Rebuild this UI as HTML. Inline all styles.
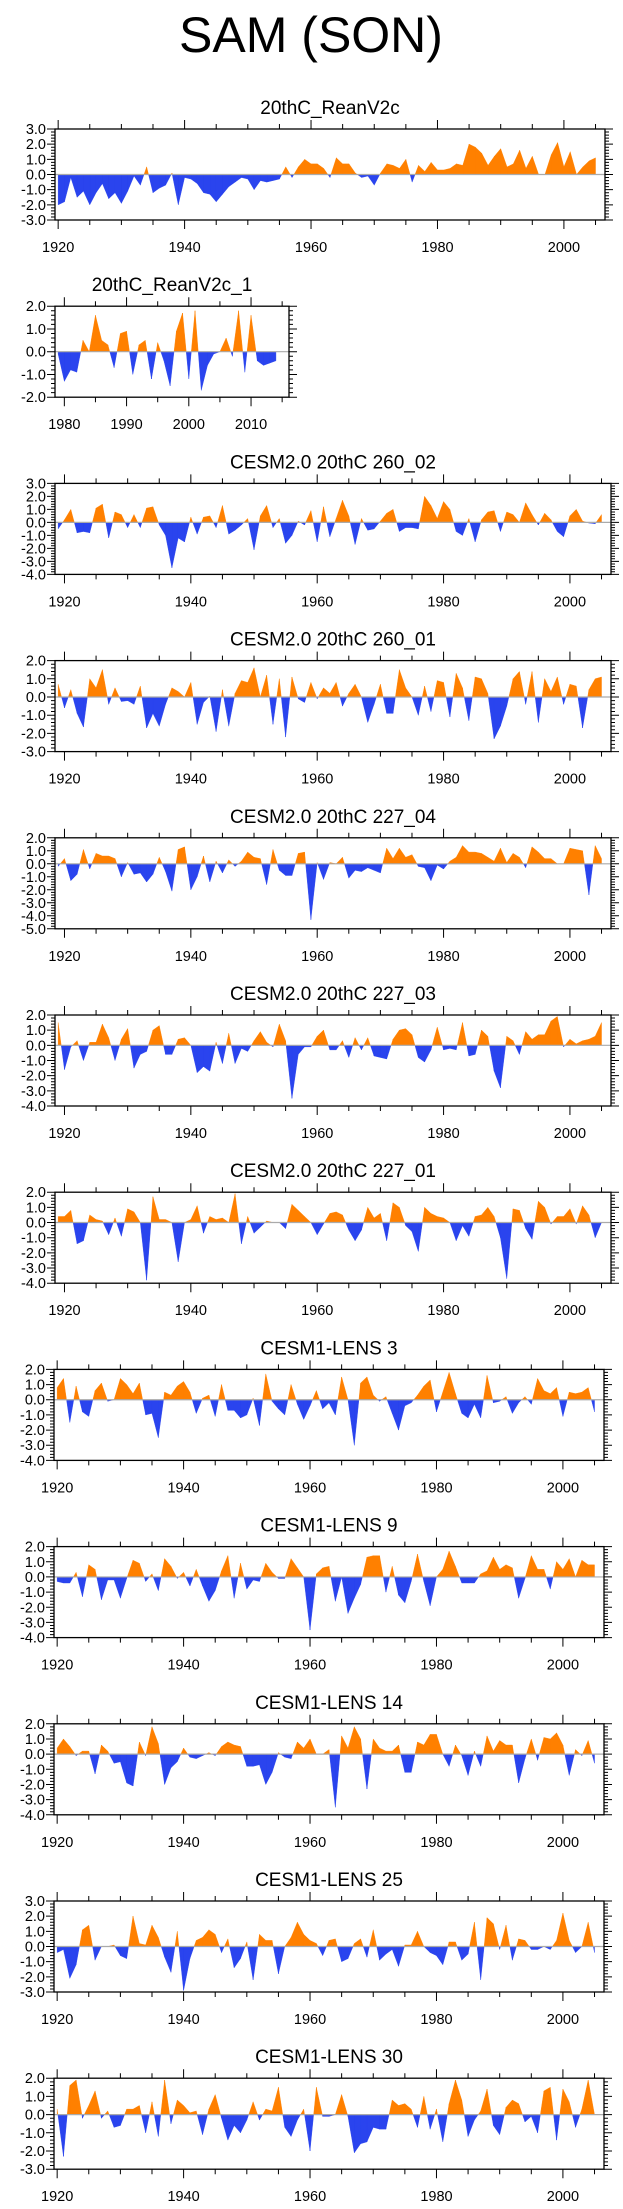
<!DOCTYPE html>
<html><head><meta charset="utf-8"><style>
html,body{margin:0;padding:0;background:#fff;}
svg{display:block;font-family:"Liberation Sans",Arial,sans-serif;}
</style></head><body>
<svg id="fig" width="623" height="2209" viewBox="0 0 623 2209" xmlns="http://www.w3.org/2000/svg">
<text x="311" y="52" font-size="50" text-anchor="middle">SAM (SON)</text>
</svg>
<script>
const titles = ["20thC_ReanV2c","20thC_ReanV2c_1","CESM2.0 20thC 260_02","CESM2.0 20thC 260_01","CESM2.0 20thC 227_04","CESM2.0 20thC 227_03","CESM2.0 20thC 227_01","CESM1-LENS 3","CESM1-LENS 9","CESM1-LENS 14","CESM1-LENS 25","CESM1-LENS 30"];
const startYears = [1920,1979,1919,1919,1919,1919,1919,1920,1920,1920,1920,1920];
const yMax = [3,2,3,2,2,2,2,2,2,2,3,2];
const yMin = [-3,-2,-4,-3,-5,-4,-4,-4,-4,-4,-3,-3];
const xTickMajor = [[1920,1940,1960,1980,2000],[1980,1990,2000,2010]];
const s0 = [-2.0,-1.8,-0.2,-1.5,-1.1,-2.0,-1.2,-0.6,-1.6,-1.2,-1.9,-1.1,-0.1,-0.7,0.5,-1.2,-0.9,-0.7,0.1,-2.0,-0.2,-0.3,-0.6,-1.2,-1.3,-1.8,-1.3,-0.8,-0.5,-0.2,-0.3,-1.0,-0.4,-0.5,-0.4,-0.3,0.5,-0.2,0.5,1.0,0.7,0.7,0.4,-0.2,1.1,0.7,0.7,0.1,-0.2,-0.1,-0.7,0.1,0.7,0.6,0.4,1.0,-0.5,0.6,0.2,0.8,0.3,0.3,0.4,0.7,0.6,2.0,1.8,1.4,0.6,1.2,1.7,0.5,0.7,1.6,0.4,1.2,0.0,0.0,1.3,2.1,0.5,1.5,0.0,0.5,0.9,1.1];
const s1 = [-0.1,-1.3,-0.8,-0.9,0.5,0.0,1.6,0.5,0.3,-0.7,0.8,0.9,-1.0,0.3,0.5,-1.2,0.4,-0.4,-1.5,0.9,1.7,-1.2,1.8,-1.7,-0.6,-0.1,0.0,0.6,-0.2,1.8,-0.9,1.6,-0.4,-0.6,-0.5,-0.4];
const s2 = [-0.5,0.2,1.0,-0.8,-0.7,-0.8,1.1,1.4,-1.2,0.8,0.6,-0.4,0.6,-0.4,1.1,1.2,-0.2,-1.0,-3.5,-1.2,-1.5,0.4,-0.9,0.4,0.5,-0.4,1.3,-0.9,-0.6,-0.2,0.3,-2.1,0.5,1.3,-0.4,0.3,-1.6,-1.0,0.1,-0.2,0.9,-1.5,1.2,-1.1,0.3,1.7,0.5,-1.7,0.3,-0.6,-0.5,0.1,0.7,1.0,-0.7,-0.4,-0.4,-0.5,2.0,1.3,0.3,1.6,1.0,-0.7,-1.0,0.3,-1.5,0.2,0.8,0.9,-0.7,0.8,0.6,0.0,1.5,0.6,-0.2,0.7,0.2,-0.7,-1.1,0.5,1.0,0.1,-0.05,-0.1,0.6];
const s3 = [0.7,-0.6,0.4,-0.9,-1.65,1.0,0.5,1.5,-0.4,0.5,-0.25,-0.2,-0.4,0.6,-1.7,-0.9,-1.6,-0.4,0.5,0.3,0.0,0.8,-1.5,-0.3,0.05,-1.9,0.4,-1.6,0.2,0.9,0.8,1.6,0.0,1.2,-1.5,1.0,-2.2,1.1,-0.1,-0.3,0.8,-0.1,0.5,0.2,0.8,-0.5,0.2,0.7,0.0,-1.4,-0.4,0.7,-0.9,-0.9,1.5,0.5,0.0,-1.0,0.6,-0.8,0.9,0.8,-1.1,1.3,0.5,-1.3,1.1,1.0,0.2,-2.3,-1.6,-0.5,1.0,1.4,-0.4,1.4,-1.4,1.0,0.3,1.1,-0.4,0.7,0.6,-1.7,0.4,1.0,1.1];
const s4 = [-0.2,0.4,-1.3,-0.8,1.1,-0.4,0.8,0.6,0.6,0.4,-1.0,0.1,-0.8,-0.7,-1.4,-0.8,0.5,-0.6,-2.1,1.1,1.3,-2.0,-1.0,0.6,-1.4,0.2,-0.7,0.3,-0.2,0.2,0.9,0.5,0.4,-1.6,1.1,-0.5,-0.9,-0.9,0.8,0.9,-4.3,0.1,-1.2,0.1,0.0,0.5,-1.1,-0.5,-0.6,-0.3,-0.5,-0.7,1.2,0.4,1.2,0.5,0.7,-0.2,-0.3,-1.3,-0.1,-0.4,0.2,0.5,1.4,0.9,0.9,0.8,0.5,0.2,1.2,0.1,0.8,0.5,-0.3,1.3,0.9,0.4,0.4,0.0,0.0,1.2,1.1,1.0,-2.4,1.4,0.4];
const s5 = [1.5,-1.6,-0.1,0.3,-1.0,0.2,0.2,1.4,0.5,-1.0,0.4,1.1,-1.5,-0.6,-0.4,1.0,1.3,-0.6,-0.6,0.4,0.5,0.0,-1.8,-1.4,-1.7,0.2,-1.2,0.8,-1.2,-0.2,-0.4,0.3,0.9,0.2,-0.1,1.4,0.3,-3.5,-0.6,-0.1,-0.1,0.6,1.0,-0.3,-0.3,0.3,-0.8,0.5,-0.3,0.5,-0.7,-0.8,-0.9,0.4,1.0,1.1,0.7,-0.8,-1.1,-0.3,1.2,-0.3,-0.2,-0.3,1.5,-0.7,-0.6,1.0,0.6,-1.7,-2.8,0.6,0.3,-0.6,0.9,0.4,0.7,0.7,1.6,1.9,-0.1,0.4,0.1,0.3,0.4,0.6,1.5];
const s6 = [0.4,0.4,0.8,-1.4,-1.2,0.5,0.2,0.1,-0.8,0.3,-0.9,0.9,0.7,0.0,-3.8,1.7,0.2,0.2,0.0,-2.6,0.0,0.2,1.1,-0.7,0.4,0.2,0.3,0.0,1.9,-1.4,0.4,-0.7,-0.3,0.1,0.0,0.0,-0.4,1.2,0.8,0.4,0.0,-0.8,-0.1,0.6,0.7,0.5,-0.5,-1.2,-0.5,1.0,0.3,0.6,-1.2,1.3,1.0,-0.2,-0.6,-1.9,1.0,0.6,0.4,0.3,0.0,-1.2,-0.2,-0.9,0.4,0.5,1.0,0.4,-1.0,-3.7,0.9,0.8,-0.4,-1.1,1.4,1.0,-0.1,0.4,0.4,0.9,-0.1,1.1,0.5,-1.0,0.0];
const s7 = [0.8,1.4,-1.5,0.9,-0.8,-1.1,0.6,1.1,-0.1,0.0,1.4,1.0,0.4,1.1,-1.0,-0.9,-2.5,0.5,0.3,0.9,1.2,0.5,-0.9,0.1,0.3,-1.1,1.0,-0.7,-0.7,-1.2,-1.0,0.1,-1.7,1.7,-0.1,-0.6,-1.0,1.0,-0.3,-1.3,-0.4,0.6,-0.6,-0.2,-1.0,1.5,0.0,-3.0,1.1,1.5,0.3,-0.1,0.2,-0.9,-2.0,-0.4,-0.2,0.3,0.9,1.3,-0.8,0.5,1.8,0.4,-0.9,-1.2,-0.3,-1.2,1.6,-0.2,-0.1,0.2,-0.9,-0.2,0.2,-0.3,1.4,0.6,0.4,0.8,-1.1,0.5,0.4,0.5,0.8,-0.8];
const s8 = [-0.3,-0.4,-0.4,0.3,-1.3,0.8,0.5,-1.5,-0.2,-0.2,-1.4,-0.1,1.1,0.9,-0.3,0.2,-0.9,1.2,0.7,-0.1,0.3,-0.6,0.5,-0.6,-1.6,-0.9,0.4,1.4,-1.4,0.9,-0.8,-0.2,-0.3,0.9,0.3,-0.1,-0.1,1.2,0.6,0.0,-3.5,0.2,0.6,0.7,-1.6,0.0,-2.4,-1.4,-0.5,1.3,1.4,1.4,-1.0,0.7,-1.2,-1.7,-0.3,1.5,-0.3,-1.9,0.0,0.5,1.7,0.7,-0.4,-0.4,-0.4,0.2,0.4,1.3,0.5,0.8,0.6,-1.4,-0.1,1.4,0.5,0.5,-0.8,1.0,0.5,1.2,0.0,1.1,0.8,0.8];
const s9 = [0.4,1.0,0.5,-0.1,0.2,0.2,-1.3,0.6,0.2,-0.6,-0.5,-1.9,-2.1,0.8,-0.1,1.8,0.7,-2.0,-0.9,-0.5,0.4,-0.2,-0.3,-0.1,0.1,-0.1,0.5,0.8,0.6,0.5,-0.8,-0.8,-0.7,-2.0,-1.2,0.1,-0.2,-0.3,0.8,0.4,1.0,0.0,0.0,0.3,-3.5,1.2,0.4,1.8,1.0,-2.3,1.0,0.4,0.2,0.2,0.6,-1.2,-1.2,0.8,0.6,1.3,1.3,0.0,-0.8,0.6,-0.1,-1.4,0.2,-0.8,1.2,0.2,0.9,0.6,0.6,-1.9,-0.3,1.0,-0.4,1.1,1.0,1.4,0.6,-1.4,0.3,-0.1,0.9,-0.6];
const s10 = [-0.4,-0.2,-2.1,-1.2,1.1,1.4,-0.9,0.0,0.0,0.1,-0.6,-0.8,2.0,0.2,0.1,1.4,0.6,-0.7,-1.7,1.0,-2.9,-0.8,0.4,0.6,1.1,0.8,-0.4,0.5,-1.4,-0.8,0.3,-2.2,0.8,0.4,0.4,-1.8,0.0,0.6,1.6,0.8,0.4,0.2,-0.6,0.4,0.5,-1.0,-0.8,0.2,0.5,-0.7,1.1,-0.9,-0.5,-0.2,-1.3,0.1,0.1,1.0,0.0,-0.4,-0.6,-1.2,0.3,0.3,-0.9,-0.5,1.6,-2.2,1.9,1.5,-0.2,1.4,-0.9,0.5,0.4,-0.2,-0.2,0.0,-0.2,0.4,2.2,0.4,-0.4,0.0,1.6,-0.4];
const s11 = [0.3,-2.3,1.6,1.9,-0.2,0.5,1.3,-0.2,0.2,-0.7,-0.6,0.3,0.3,0.5,-1.0,0.7,-1.2,1.9,-0.5,0.8,0.5,0.1,0.2,-1.1,0.3,1.1,-0.2,-1.4,-0.6,-1.0,-0.3,0.7,-0.3,0.3,0.2,1.5,-0.7,-1.2,-0.3,0.3,-2.0,1.5,-0.1,-0.1,0.0,1.1,-0.1,-2.1,-1.6,-1.5,-0.7,-0.8,-0.8,0.8,0.5,0.6,0.3,-0.7,1.0,-0.8,0.3,-1.5,0.6,1.9,0.8,-1.2,-0.3,0.2,1.4,-0.6,-1.1,0.4,0.8,0.6,-0.4,-0.1,-1.0,1.3,1.5,-1.4,1.4,0.7,-0.7,0.3,1.9,0.0];
const series = [s0,s1,s2,s3,s4,s5,s6,s7,s8,s9,s10,s11];

const NS = "http://www.w3.org/2000/svg";
const svg = document.getElementById("fig");
function mk(tag, attrs, parent){ const e=document.createElementNS(NS,tag); for(const k in attrs) e.setAttribute(k,attrs[k]); (parent||svg).appendChild(e); return e; }

function layout(i){
  if(i===0) return {l:55,r:605,y0:1919.5,y1:2006.5};
  if(i===1) return {l:55,r:289,y0:1978.5,y1:2016.1};
  if(i<=6) return {l:55,r:611,y0:1918.5,y1:2006.5};
  return {l:54,r:604,y0:1919.5,y1:2006.5};
}

for(let i=0;i<12;i++){
  const L = layout(i);
  const top = 129 + 177.2*i, h = 91, bot = top+h;
  const g = mk("g",{});
  
  
  const xs = yr => L.l + (yr-L.y0)/(L.y1-L.y0)*(L.r-L.l);
  const ys = v => top + (yMax[i]-v)/(yMax[i]-yMin[i])*h;
  const t = mk("text",{x:(L.l+L.r)/2,y:top-15,"font-size":19,"text-anchor":"middle"},g);
  t.textContent = titles[i];
  
  
  // build fill polygons
  const vals = series[i], y0 = startYears[i];
  let pos="", neg="";
  const z = ys(0);
  for(let k=0;k<vals.length-1;k++){
    const a=vals[k], b=vals[k+1], xa=xs(y0+k), xb=xs(y0+k+1);
    let segs=[];
    if((a>=0&&b>=0)||(a<=0&&b<=0)) segs.push([xa,a,xb,b]);
    else { const f=a/(a-b), xc=xa+f*(xb-xa); segs.push([xa,a,xc,0]); segs.push([xc,0,xb,b]); }
    for(const s of segs){
      const d=`M${s[0].toFixed(2)},${z.toFixed(2)}L${s[0].toFixed(2)},${ys(s[1]).toFixed(2)}L${s[2].toFixed(2)},${ys(s[3]).toFixed(2)}L${s[2].toFixed(2)},${z.toFixed(2)}Z`;
      if(s[1]+s[3]>0) pos+=d; else neg+=d;
    }
  }
  const pp = mk("path",{d:pos,fill:"#ff8000",stroke:"#ff8000","stroke-width":0.4},g);
  
  
  const np = mk("path",{d:neg,fill:"#2a44ee",stroke:"#2a44ee","stroke-width":0.4},g);
  
  
  const zl = mk("line",{x1:L.l,x2:L.r,y1:z,y2:z,stroke:"#aaaaaa","stroke-width":1.2},g);
  
  
  const fr = mk("rect",{x:L.l,y:top,width:L.r-L.l,height:h,fill:"none",stroke:"#000","stroke-width":1.3},g);
  
  
  // y ticks
  let tk="";
  const steps = Math.round((yMax[i]-yMin[i])/0.2);
  for(let k=0;k<=steps;k++){
    const v=yMin[i]+k*0.2, y=ys(v), major=Math.abs(v-Math.round(v))<1e-6;
    const len = major?8:4;
    tk+=`M${L.l},${y.toFixed(2)}h${-len}M${L.r},${y.toFixed(2)}h${len}`;
    if(major){
      const lb = mk("text",{x:L.l-9,y:y+5,"font-size":14.5,"text-anchor":"end"},g);
      lb.textContent = Math.round(v).toFixed(1);
      
      
    }
  }
  // x ticks
  const majors = i===1 ? xTickMajor[1] : xTickMajor[0];
  const majStep = i===1 ? 10 : 20;
  for(let yr=Math.ceil(L.y0/5)*5; yr<=L.y1; yr+=5){
    const x=xs(yr), major = yr%majStep===0;
    const len = major?9:5;
    tk+=`M${x.toFixed(2)},${bot}v${len}M${x.toFixed(2)},${top}v${-len}`;
  }
  for(const yr of majors){
    const lb = mk("text",{x:xs(yr),y:bot+32,"font-size":14.5,"text-anchor":"middle"},g);
    lb.textContent = yr;
    
    
  }
  const tp = mk("path",{d:tk,stroke:"#000","stroke-width":1,fill:"none"},g);
  
  
}
</script>
</body></html>
